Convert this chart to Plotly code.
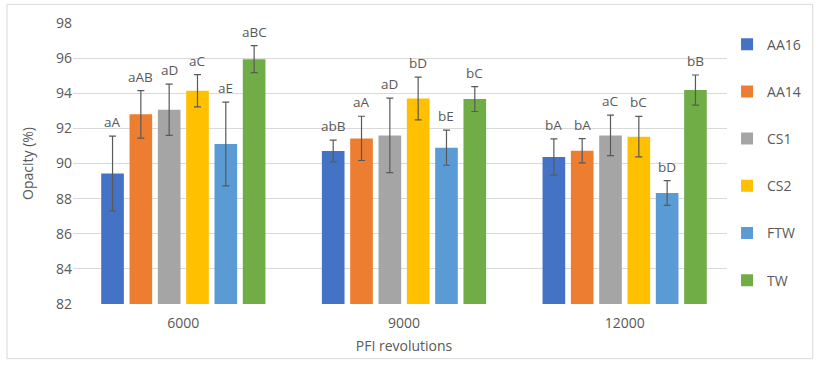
import plotly.graph_objects as go

categories = ["6000", "9000", "12000"]
series_names = ["AA16", "AA14", "CS1", "CS2", "FTW", "TW"]
colors = ["#4472C4", "#ED7D31", "#A5A5A5", "#FFC000", "#5B9BD5", "#70AD47"]

aa16 = [89.43, 90.71, 90.37]
aa14 = [92.80, 91.43, 90.73]
cs1 = [93.06, 91.60, 91.60]
cs2 = [94.14, 93.70, 91.53]
ftw = [91.11, 90.90, 88.32]
tw = [95.94, 93.67, 94.18]

aa16_err = [2.13, 0.62, 1.03]
aa14_err = [1.35, 1.26, 0.69]
cs1_err = [1.46, 2.12, 1.15]
cs2_err = [0.92, 1.22, 1.15]
ftw_err = [2.38, 1.00, 0.70]
tw_err = [0.77, 0.71, 0.86]

aa16_lbl = ["aA", "abB", "bA"]
aa14_lbl = ["aAB", "aA", "bA"]
cs1_lbl = ["aD", "aD", "aC"]
cs2_lbl = ["aC", "bD", "bC"]
ftw_lbl = ["aE", "bE", "bD"]
tw_lbl = ["aBC", "bC", "bB"]

values = [aa16, aa14, cs1, cs2, ftw, tw]
errors = [aa16_err, aa14_err, cs1_err, cs2_err, ftw_err, tw_err]
labels = [aa16_lbl, aa14_lbl, cs1_lbl, cs2_lbl, ftw_lbl, tw_lbl]

FONT = "Open Sans"
TXT = "#595959"
BARGAP = 0.23

fig = go.Figure()
for name, col, v, e in zip(series_names, colors, values, errors):
    fig.add_trace(go.Bar(
        name=name, x=categories, y=v, marker_color=col,
        marker_line_width=0,
        legendgroup=name,
        error_y=dict(type="data", array=e, visible=True, color="#595959",
                     thickness=1.2, width=3.5),
    ))

n = len(series_names)
slot = (1 - BARGAP) / n
annotations = []
for si in range(n):
    for ci in range(len(categories)):
        xpos = ci - (1 - BARGAP) / 2 + slot * (si + 0.5)
        annotations.append(dict(
            x=xpos, y=values[si][ci] + errors[si][ci], xref="x", yref="y",
            text=labels[si][ci], showarrow=False, yanchor="bottom", yshift=3,
            font=dict(family=FONT, size=13.5, color=TXT),
        ))

fig.update_layout(
    width=819, height=368,
    margin=dict(l=73, r=84, t=23, b=64, autoexpand=False),
    paper_bgcolor="white", plot_bgcolor="white",
    barmode="group", bargap=BARGAP, bargroupgap=0.2,
    font=dict(family=FONT, size=14, color=TXT),
    legend=dict(x=0.988, y=0.98, xanchor="left", yanchor="top",
                font=dict(family=FONT, size=14, color=TXT),
                tracegroupgap=26, itemwidth=30),
    annotations=annotations,
    shapes=[dict(type="rect", xref="paper", yref="paper",
                 x0=-0.0997, x1=1.1174, y0=-0.1945, y1=1.0665,
                 line=dict(color="#d9d9d9", width=1), layer="below")],
)
fig.update_yaxes(range=[82, 98], dtick=2, showgrid=True, gridcolor="#d9d9d9",
                 gridwidth=1, zeroline=False, showline=False,
                 ticks="", ticklen=0,
                 title=dict(text="Opacity (%)", font=dict(size=14, color=TXT), standoff=19),
                 tickfont=dict(size=14, color=TXT))
fig.update_xaxes(showline=False, ticks="", ticklabelstandoff=9,
                 title=dict(text="PFI revolutions", font=dict(size=14, color=TXT), standoff=10),
                 tickfont=dict(size=14, color=TXT))

fig.write_html("out.html", config={"displayModeBar": False},
               post_script="document.body.style.margin='0';")
